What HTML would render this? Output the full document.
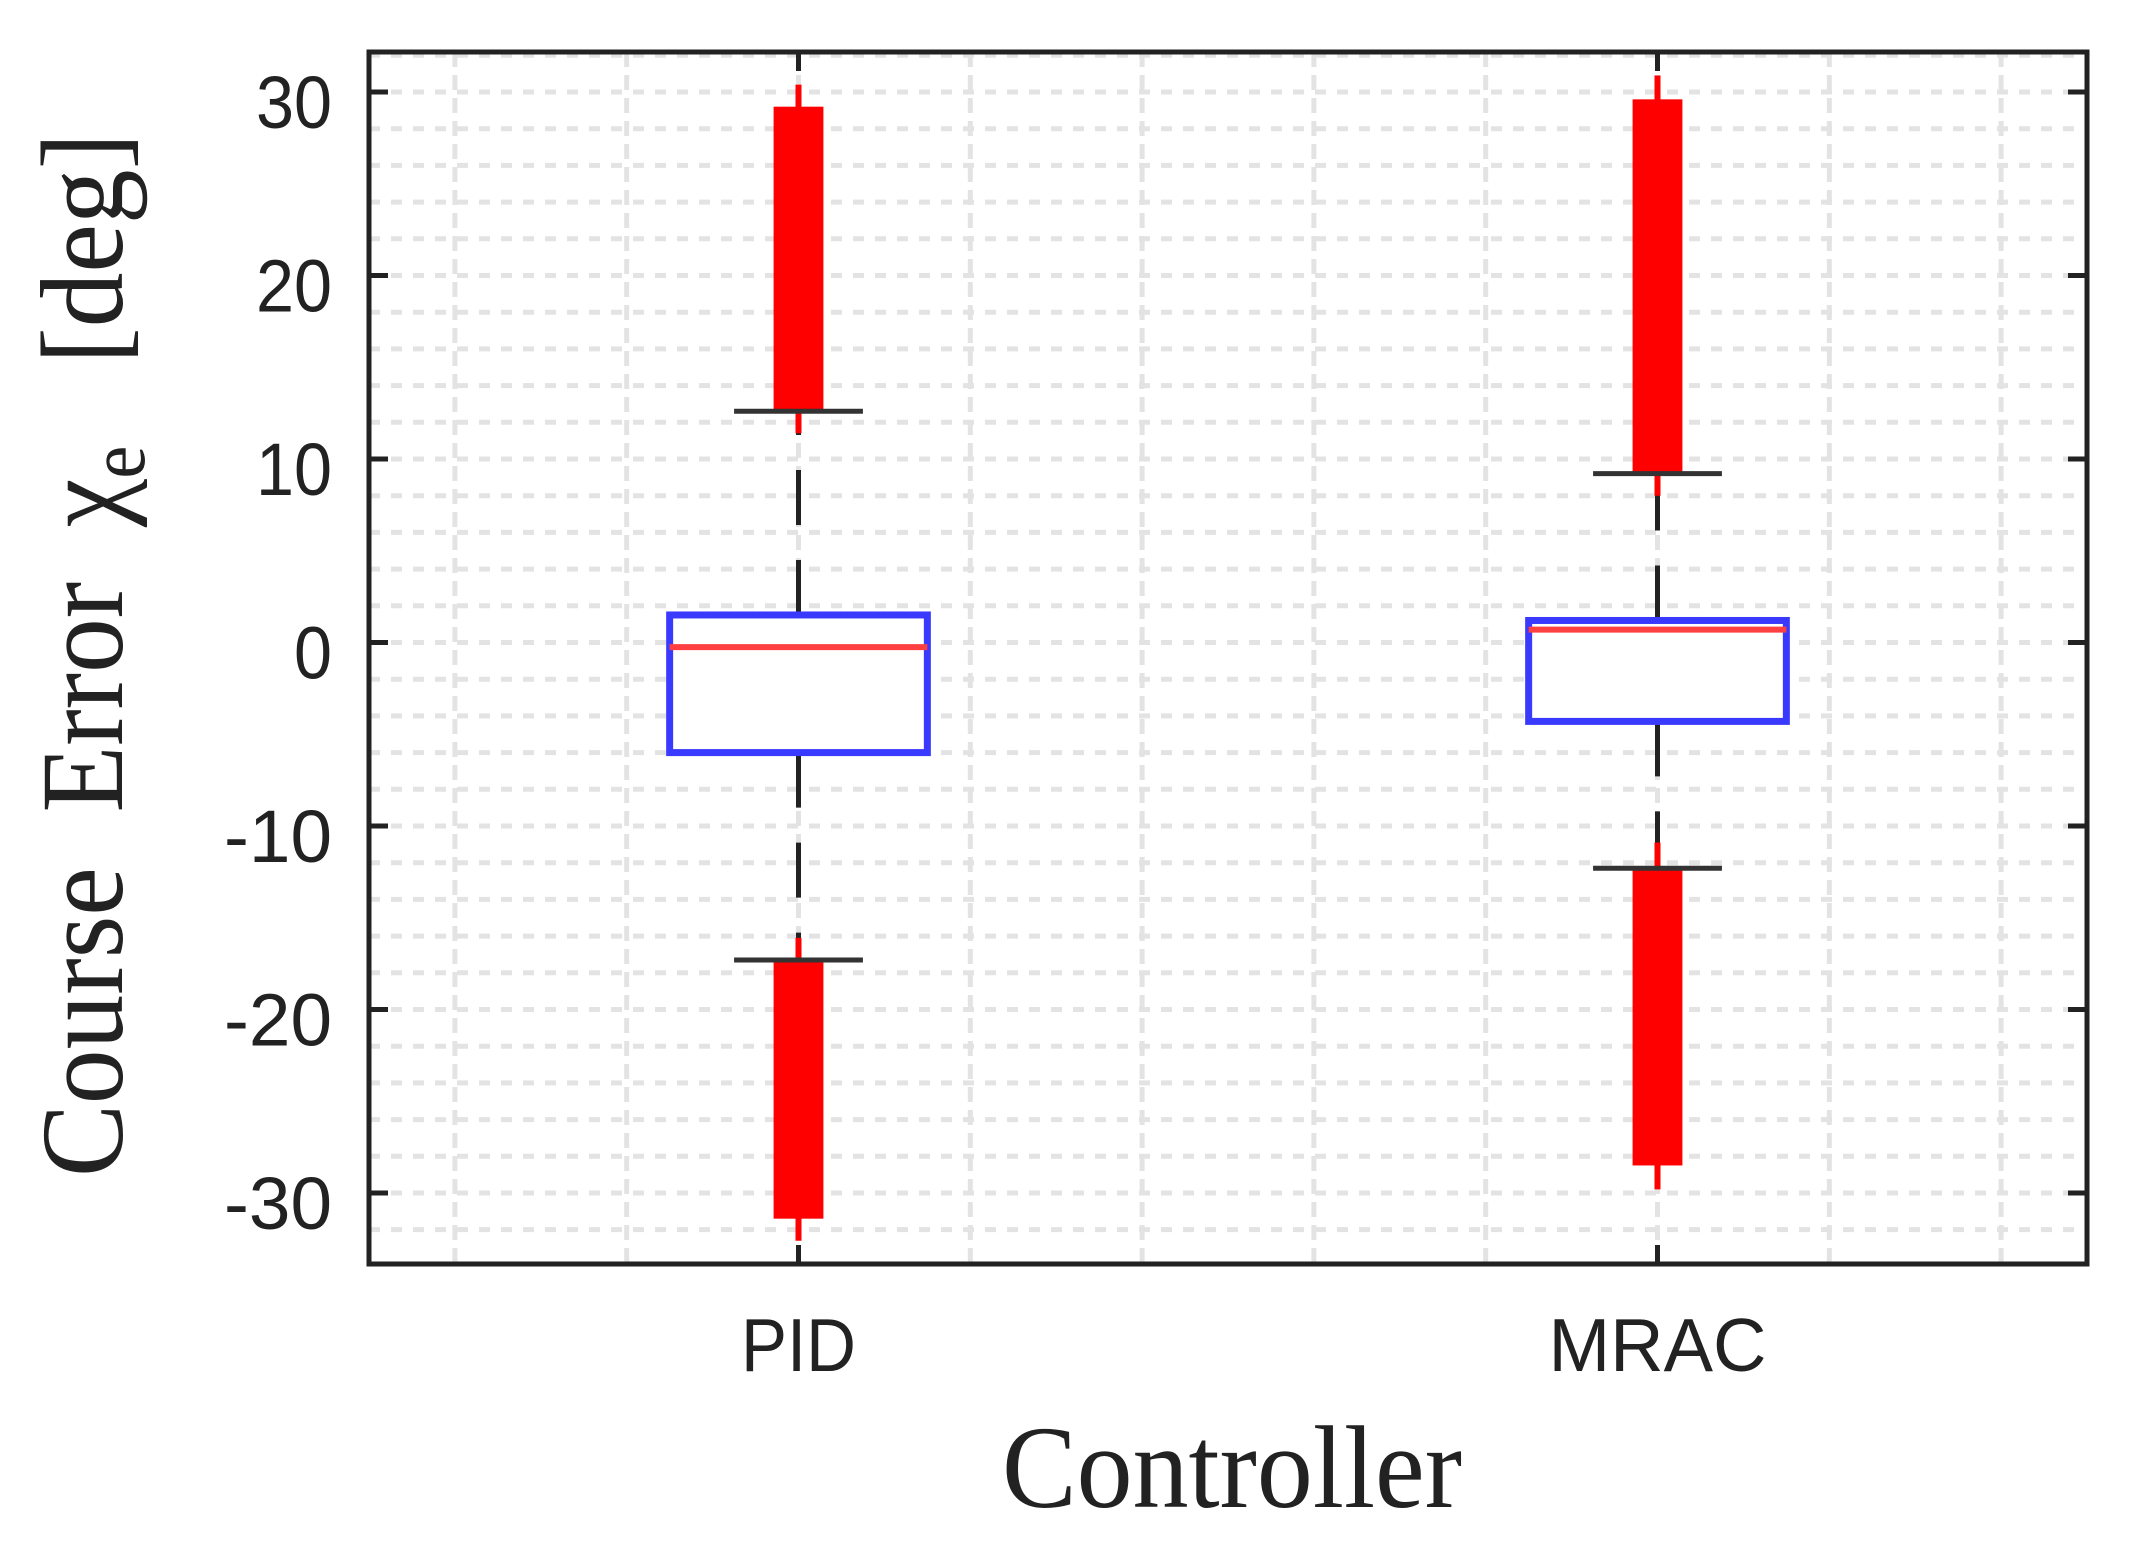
<!DOCTYPE html>
<html><head><meta charset="utf-8"><style>
html,body{margin:0;padding:0;background:#fff;}
svg{display:block;}
</style></head><body>
<svg id="chart" width="2142" height="1551" viewBox="0 0 2142 1551" xmlns="http://www.w3.org/2000/svg">
<g id="grid"></g>
<g id="marks"></g>
<g id="axes"></g>
<text x="1002" y="1507" font-family="Liberation Serif, serif" font-size="118" fill="#222" textLength="460" lengthAdjust="spacingAndGlyphs">Controller</text>
<text transform="translate(122,1177) rotate(-90)" font-family="Liberation Serif, DejaVu Serif, serif" font-size="118" fill="#222" textLength="1044" lengthAdjust="spacingAndGlyphs" xml:space="preserve">Course  Error  χ<tspan font-size="80" dy="22">e</tspan><tspan dy="-22">   [deg]</tspan></text>
</svg>
<script>
const categories = ["PID", "MRAC"];
const q1 = [-6.0, -4.3];
const medians = [-0.25, 0.7];
const q3 = [1.5, 1.2];
const whiskerLow = [-17.3, -12.3];
const whiskerHigh = [12.6, 9.2];
const outlierHighThickTop = [29.2, 29.6];
const outlierHighThinTop = [30.4, 30.9];
const outlierHighThinBottom = [11.4, 8.0];
const outlierLowThickBottom = [-31.4, -28.5];
const outlierLowThinBottom = [-32.6, -29.8];
const outlierLowThinTop = [-16.1, -10.9];
const yTicks = [-30, -20, -10, 0, 10, 20, 30];
const yTickLabels = ["-30", "-20", "-10", "0", "10", "20", "30"];

const NS = "http://www.w3.org/2000/svg";
const L = 369, R = 2087, T = 52, B = 1264;
const xMin = 0.5, xMax = 2.5, yMin = -33.87, yMax = 32.18;
function xs(v){ return L + (v - xMin) / (xMax - xMin) * (R - L); }
function ys(v){ return B - (v - yMin) / (yMax - yMin) * (B - T); }
function mk(tag, attrs, parent){
  const e = document.createElementNS(NS, tag);
  for (const k in attrs) e.setAttribute(k, attrs[k]);
  parent.appendChild(e);
  return e;
}
const grid = document.getElementById("grid");
const marks = document.getElementById("marks");
const axes = document.getElementById("axes");

for (let i = 0; i < 10; i++) {
  const x = xs(0.6 + i * 0.2);
  const g = mk("line", {x1:x, x2:x, y1:T, y2:B, stroke:"#e3e3e3", "stroke-width":5, "stroke-dasharray":"15 8"}, grid);
  
  
}
for (let v = -32; v <= 32; v += 2) {
  const y = ys(v);
  const g = mk("line", {x1:L, x2:R, y1:y, y2:y, stroke:"#e3e3e3", "stroke-width":5, "stroke-dasharray":"11 11"}, grid);
  
  
}

categories.forEach((c, i) => {
  const cx = xs(i + 1);
  const hw = xs(1.15) - xs(1);
  const cw = xs(1.075) - xs(1);
  const ow = xs(1.029) - xs(1);
  let w = mk("line", {x1:cx, x2:cx, y1:ys(q3[i]), y2:ys(whiskerHigh[i]), stroke:"#222", "stroke-width":5, "stroke-dasharray":"55 35"}, marks);
  
  
  w = mk("line", {x1:cx, x2:cx, y1:ys(q1[i]), y2:ys(whiskerLow[i]), stroke:"#222", "stroke-width":5, "stroke-dasharray":"55 35"}, marks);
  
  
  let o = mk("line", {x1:cx, x2:cx, y1:ys(outlierHighThinTop[i]), y2:ys(outlierHighThinBottom[i]), stroke:"#ff0000", "stroke-width":6}, marks);
  
  
  o = mk("line", {x1:cx, x2:cx, y1:ys(outlierLowThinTop[i]), y2:ys(outlierLowThinBottom[i]), stroke:"#ff0000", "stroke-width":6}, marks);
  
  
  o = mk("rect", {x:cx-ow, width:2*ow, y:ys(outlierHighThickTop[i]), height:ys(whiskerHigh[i])-ys(outlierHighThickTop[i]), fill:"#ff0000"}, marks);
  
  
  o = mk("rect", {x:cx-ow, width:2*ow, y:ys(whiskerLow[i]), height:ys(outlierLowThickBottom[i])-ys(whiskerLow[i]), fill:"#ff0000"}, marks);
  
  
  let cap = mk("line", {x1:cx-cw, x2:cx+cw, y1:ys(whiskerHigh[i]), y2:ys(whiskerHigh[i]), stroke:"#333", "stroke-width":5}, marks);
  
  
  cap = mk("line", {x1:cx-cw, x2:cx+cw, y1:ys(whiskerLow[i]), y2:ys(whiskerLow[i]), stroke:"#333", "stroke-width":5}, marks);
  
  
  const bx = mk("rect", {x:cx-hw, width:2*hw, y:ys(q3[i]), height:ys(q1[i])-ys(q3[i]), fill:"#fff", stroke:"#3a3aff", "stroke-width":7}, marks);
  
  
  const md = mk("line", {x1:cx-hw, x2:cx+hw, y1:ys(medians[i]), y2:ys(medians[i]), stroke:"#ff4040", "stroke-width":6}, marks);
  
  
  let tk = mk("line", {x1:cx, x2:cx, y1:B, y2:B-19, stroke:"#222", "stroke-width":5}, axes);
  
  
  tk = mk("line", {x1:cx, x2:cx, y1:T, y2:T+19, stroke:"#222", "stroke-width":5}, axes);
  
  
  const lb = mk("text", {x:cx, y:1371, "text-anchor":"middle", "font-family":"Liberation Sans, sans-serif", "font-size":75, fill:"#222", textLength: c.length > 3 ? 218 : 115, lengthAdjust:"spacingAndGlyphs"}, axes);
  lb.textContent = c;
  
  
});

yTicks.forEach((v, i) => {
  const y = ys(v);
  let t = mk("line", {x1:L, x2:L+19, y1:y, y2:y, stroke:"#222", "stroke-width":5}, axes);
  
  
  t = mk("line", {x1:R, x2:R-19, y1:y, y2:y, stroke:"#222", "stroke-width":5}, axes);
  
  
  const s = yTickLabels[i];
  const lb = mk("text", {x:332, y:y+36, "text-anchor":"end", "font-family":"Liberation Sans, sans-serif", "font-size":74, fill:"#222", textLength: s.length*38 + (s[0]==="-"?-6:0), lengthAdjust:"spacingAndGlyphs"}, axes);
  lb.textContent = s;
  
  
});

const frame = mk("rect", {x:L, y:T, width:R-L, height:B-T, fill:"none", stroke:"#222", "stroke-width":5}, axes);


</script>
</body></html>
